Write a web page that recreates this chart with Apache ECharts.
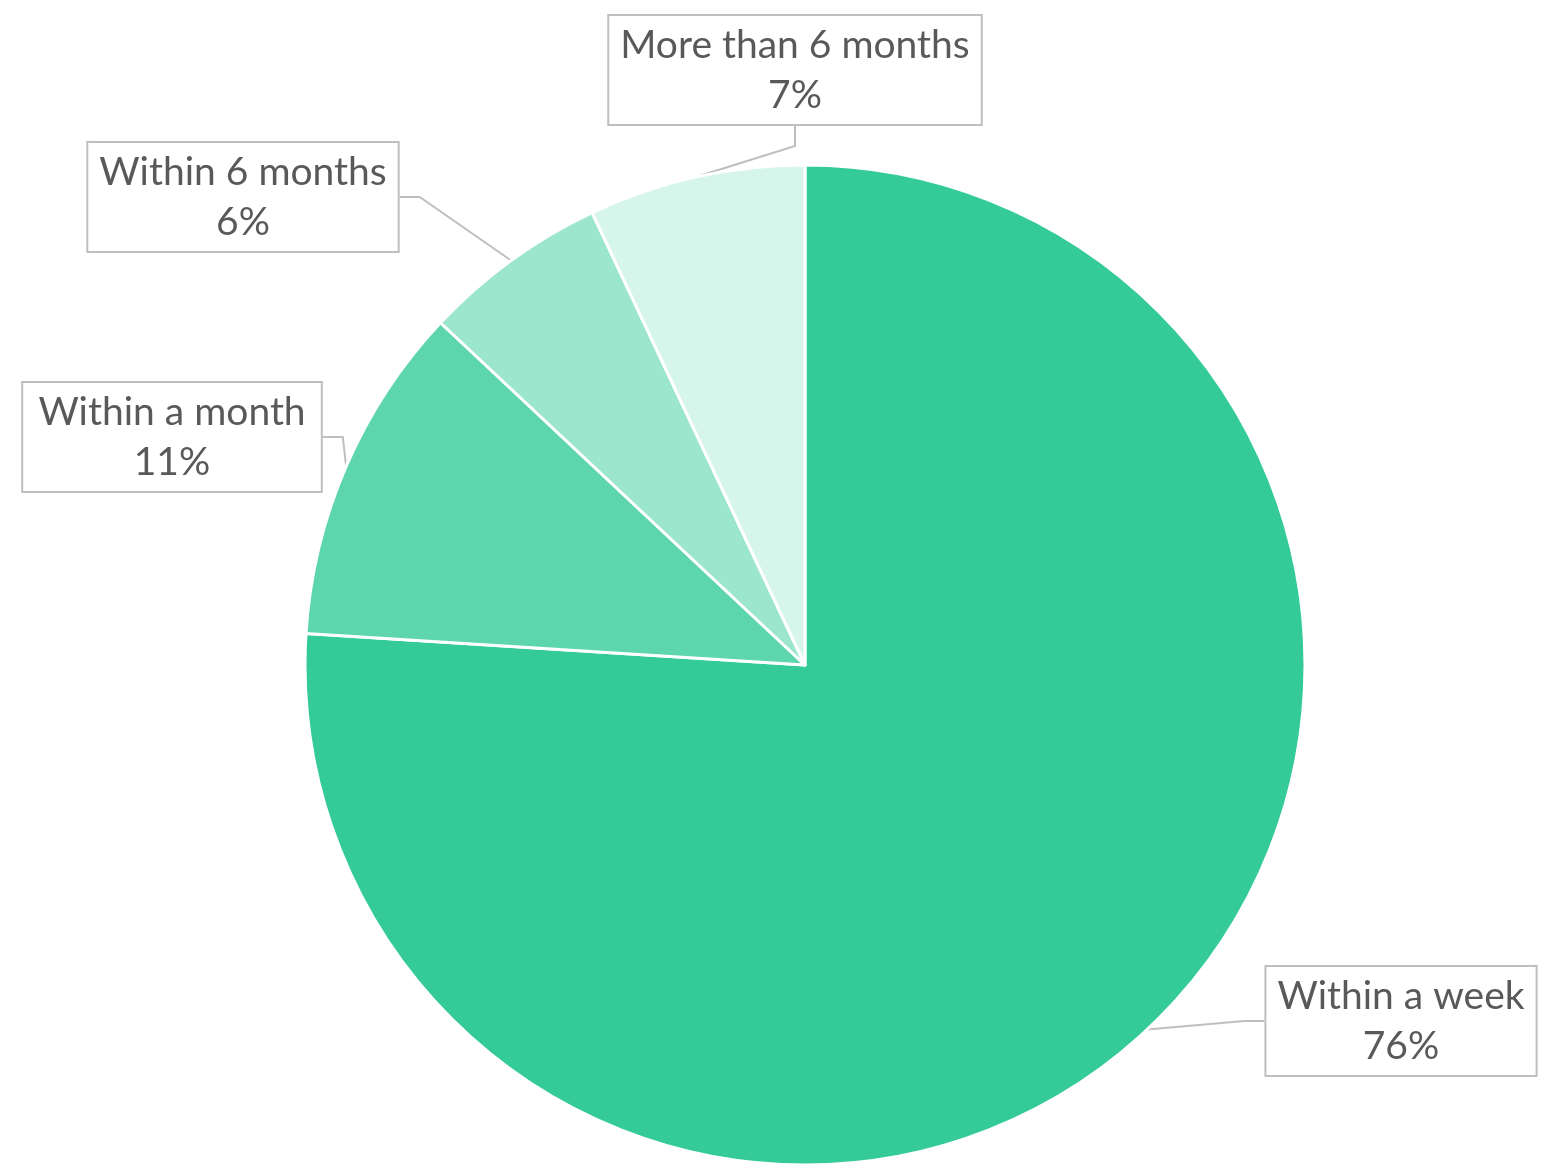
<!DOCTYPE html>
<html>
<head>
<meta charset="utf-8">
<script src="https://cdn.jsdelivr.net/npm/echarts@6/dist/echarts.min.js"></script>
<style>
  html, body { margin: 0; padding: 0; background: #fff; }
  #chart { width: 1542px; height: 1165px; }
</style>
</head>
<body>
<div id="chart"></div>
<script>
const categories = ['Within a week', 'Within a month', 'Within 6 months', 'More than 6 months'];
const values = [76, 11, 6, 7];
const colors = ['#34CB98', '#5DD6AD', '#9CE6CD', '#D6F5EB'];
// label box centers (layout only)
const labelCenters = [[1401, 1021], [172, 437], [243, 197], [795, 70]];

const chart = echarts.init(document.getElementById('chart'));
chart.setOption({
  animation: false,
  backgroundColor: '#ffffff',
  series: [{
    type: 'pie',
    center: [805, 665],
    radius: 500,
    startAngle: 90,
    clockwise: true,
    data: categories.map((name, i) => ({ name: name, value: values[i], itemStyle: { color: colors[i] } })),
    itemStyle: { borderColor: '#ffffff', borderWidth: 3 },
    label: {
      show: true,
      position: 'outside',
      formatter: '{b}\n{c}%',
      fontFamily: 'Lato, "Open Sans", sans-serif',
      fontSize: 39,
      lineHeight: 50,
      color: '#595959',
      align: 'center',
      backgroundColor: '#ffffff',
      borderColor: '#BFBFBF',
      borderWidth: 2,
      padding: [4, 11, 4, 11]
    },
    labelLine: {
      show: true,
      length: 20,
      length2: 20,
      lineStyle: { color: '#BFBFBF', width: 2 }
    },
    labelLayout: function (params) {
      const c = labelCenters[params.dataIndex];
      return { x: c[0], y: c[1], align: 'center', verticalAlign: 'middle' };
    },
    emphasis: { disabled: true }
  }]
});
</script>
</body>
</html>
